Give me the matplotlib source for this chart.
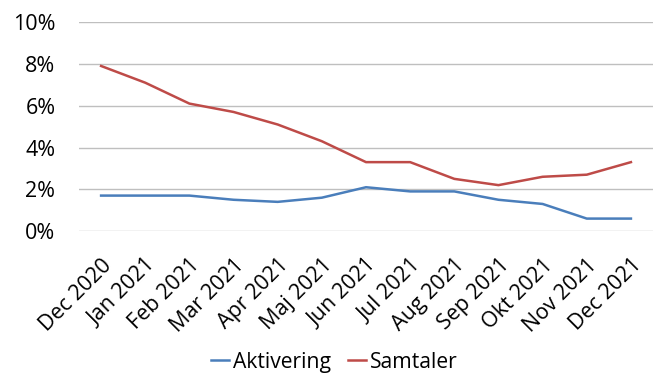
import matplotlib.pyplot as plt
from matplotlib.ticker import PercentFormatter

months = ["Dec 2020", "Jan 2021", "Feb 2021", "Mar 2021", "Apr 2021", "Maj 2021",
          "Jun 2021", "Jul 2021", "Aug 2021", "Sep 2021", "Okt 2021", "Nov 2021", "Dec 2021"]
aktivering = [1.7, 1.7, 1.7, 1.5, 1.4, 1.6, 2.1, 1.9, 1.9, 1.5, 1.3, 0.6, 0.6]
samtaler = [7.9, 7.1, 6.1, 5.7, 5.1, 4.3, 3.3, 3.3, 2.5, 2.2, 2.6, 2.7, 3.3]

plt.rcParams['font.family'] = ['Open Sans', 'DejaVu Sans']
fs = 15.5

fig = plt.figure(figsize=(6.53, 3.74), dpi=100)
ax = fig.add_axes([0.121, 0.382, 0.879, 0.559])

x = range(len(months))
ax.plot(x, aktivering, color="#4a7ebb", linewidth=1.8, label="Aktivering")
ax.plot(x, samtaler, color="#be4b48", linewidth=1.8, label="Samtaler")

ax.set_xlim(-0.5, len(months) - 0.5)
ax.set_ylim(0, 10)
ax.set_yticks([0, 2, 4, 6, 8, 10])
ax.yaxis.set_major_formatter(PercentFormatter(decimals=0))
ax.grid(axis='y', color="#bfbfbf", linewidth=1)
ax.set_axisbelow(True)
for s in ax.spines.values():
    s.set_visible(False)
ax.tick_params(axis='both', length=0, labelsize=fs, colors="#000000")
ax.tick_params(axis='y', pad=17)
ax.set_xticks(list(x))
ax.set_xticklabels(months, rotation=45, ha='right', rotation_mode='anchor')
ax.tick_params(axis='x', pad=17)

# legend sits under the rotated month labels
fig.legend(loc='center', bbox_to_anchor=(0.512, 0.032), ncol=2, frameon=False,
           fontsize=15.2, handlelength=0.85, handletextpad=0.2, columnspacing=0.8)

plt.savefig("out.png", dpi=100)
